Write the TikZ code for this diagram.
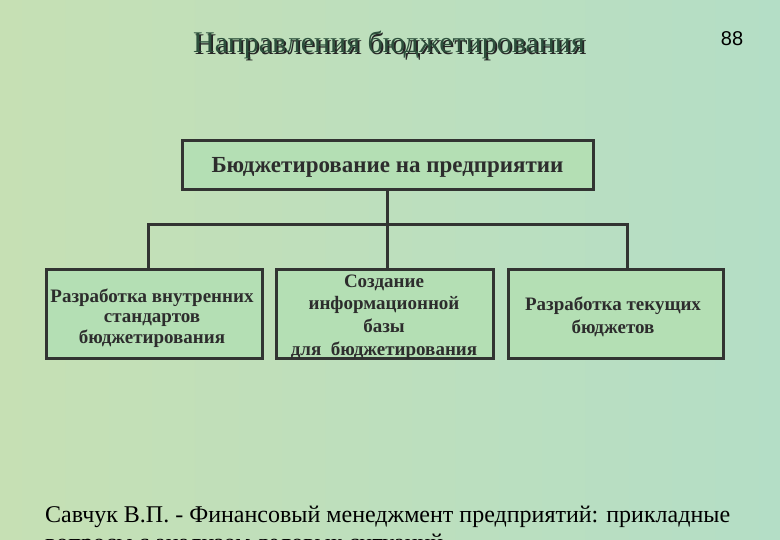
\documentclass[tikz,border=0pt]{standalone}
\usepackage{fontspec}
\setmainfont{Liberation Serif}
\newfontfamily\numfont{Liberation Sans}
\usetikzlibrary{calc}
\definecolor{bgA}{RGB}{198,224,180}
\definecolor{bgB}{RGB}{180,222,198}
\definecolor{boxfill}{RGB}{180,223,180}
\definecolor{boxline}{RGB}{50,52,50}
\definecolor{titlecol}{RGB}{45,80,60}
\definecolor{txtcol}{RGB}{45,45,45}
\newcommand{\shadowtext}[1]{\rlap{\hspace{1.8pt}\raisebox{-1.8pt}{\textcolor{black!85}{#1}}}\textcolor{titlecol}{#1}}
\tikzset{
  blk/.style={draw=boxline, line width=3pt, fill=boxfill, inner sep=0pt},
  conn/.style={draw=boxline, line width=3pt},
  btxt/.style={text=txtcol, align=center, inner sep=0pt},
}
\begin{document}
\begin{tikzpicture}[x=1pt,y=-1pt]
\useasboundingbox (0,0) rectangle (780,540);
\shade[left color=bgA, right color=bgB] (0,0) rectangle (780,540);
% title
\node[font=\fontsize{30}{34}\selectfont] (title) at (389,46) {\shadowtext{Направления бюджетирования}};
\node[font=\numfont\fontsize{20}{22}\selectfont] (num) at (732,39) {88};
% boxes
\node[blk, minimum width=411, minimum height=49] (top) at (387.5,165.5) {};
\node[btxt, font=\fontsize{23}{26}\selectfont\bfseries] (toptext) at (387.5,167) {Бюджетирование на предприятии};
\node[blk, minimum width=216, minimum height=89] (b1) at (154,314.5) {};
\node[blk, minimum width=217, minimum height=89] (b2) at (384.5,314.5) {};
\node[blk, minimum width=215, minimum height=89] (b3) at (615.5,314.5) {};
\node[btxt, font=\fontsize{19}{20.5}\selectfont\bfseries] (t1) at (152,318) {Разработка внутренних\\стандартов\\бюджетирования};
\node[btxt, font=\fontsize{19}{22.7}\selectfont\bfseries] (t2) at (384,317) {Создание\\информационной\\базы\\для\ \ бюджетирования};
\node[btxt, font=\fontsize{19}{23}\selectfont\bfseries] (t3) at (613,317) {Разработка текущих\\бюджетов};
% connectors
\coordinate (j) at (top.south |- 0,225);
\coordinate (jl) at (148,225);
\coordinate (jr) at (627,225);
\draw[conn] (top.south) -- (j);
\draw[conn, line cap=rect] (jl) -- (jr);
\draw[conn] (jl) -- (jl |- b1.north);
\draw[conn] (j) -- (j |- b2.north);
\draw[conn] (jr) -- (jr |- b3.north);
% bottom text
\begin{scope}
\clip (0,0) rectangle (780,540);
\node[anchor=base west, inner sep=0pt, font=\fontsize{24}{27}\selectfont] (ref1) at (45,522) {Савчук В.П. - Финансовый менеджмент предприятий: прикладные};
\node[anchor=base west, inner sep=0pt, font=\fontsize{24}{27}\selectfont] (ref2) at (45,550) {вопросы с анализом деловых ситуаций};
\end{scope}
\end{tikzpicture}
\end{document}
